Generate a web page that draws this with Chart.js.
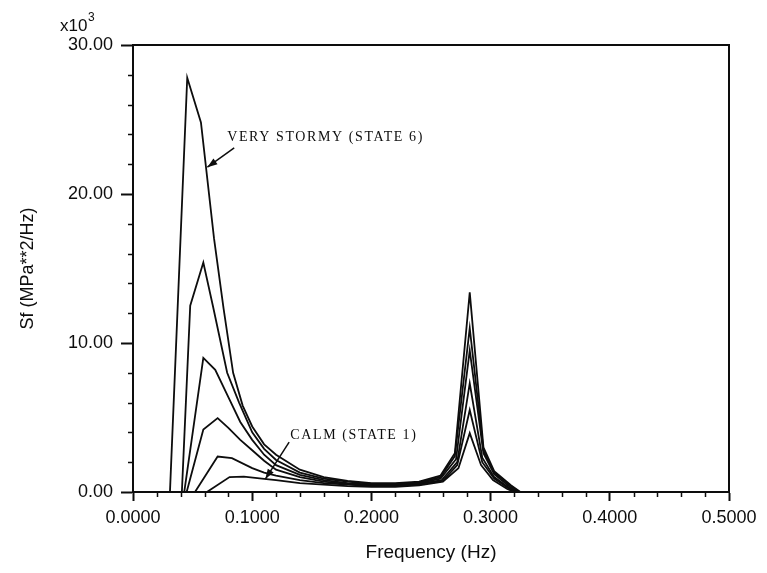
<!DOCTYPE html>
<html lang="en">
<head>
    <meta charset="utf-8" />
    <title>Sf spectrum by sea state</title>
    <script src="https://cdn.jsdelivr.net/npm/chart.js"></script>
    <style>
        html, body { margin: 0; padding: 0; background: #fff; }
        #wrap { width: 767px; height: 573px; }
    </style>
</head>
<body>
    <div id="wrap"><canvas id="chart" width="767" height="573"></canvas></div>

    <script>
        // frequency (Hz) and stress spectrum Sf (x10^3 MPa**2/Hz), one pair per sea state
        const freq6 = [0.031, 0.0455, 0.057, 0.068, 0.076, 0.084, 0.092, 0.100, 0.110, 0.120, 0.140, 0.160, 0.180, 0.200, 0.220, 0.240, 0.258, 0.270, 0.2825, 0.294, 0.303, 0.317, 0.325];
        const sf6   = [0, 27.8, 24.8, 17.0, 12.3, 8.0, 5.8, 4.4, 3.2, 2.5, 1.5, 1.0, 0.75, 0.6, 0.6, 0.7, 1.1, 2.6, 13.4, 3.0, 1.4, 0.45, 0];

        const freq5 = [0.041, 0.048, 0.059, 0.067, 0.079, 0.089, 0.100, 0.110, 0.120, 0.140, 0.160, 0.180, 0.200, 0.220, 0.240, 0.258, 0.270, 0.2825, 0.294, 0.303, 0.317, 0.324];
        const sf5   = [0, 12.5, 15.4, 12.5, 8.0, 6.0, 4.0, 2.9, 2.15, 1.3, 0.9, 0.7, 0.55, 0.55, 0.65, 1.0, 2.4, 11.0, 2.8, 1.3, 0.4, 0];

        const freq4 = [0.043, 0.059, 0.069, 0.081, 0.090, 0.100, 0.110, 0.120, 0.140, 0.160, 0.180, 0.200, 0.220, 0.240, 0.258, 0.271, 0.2825, 0.294, 0.303, 0.316, 0.323];
        const sf4   = [0, 9.0, 8.2, 6.2, 4.7, 3.5, 2.5, 1.8, 1.15, 0.8, 0.6, 0.5, 0.5, 0.6, 0.9, 2.2, 9.5, 2.6, 1.2, 0.35, 0];

        const freq3 = [0.045, 0.059, 0.071, 0.080, 0.090, 0.100, 0.110, 0.120, 0.140, 0.160, 0.180, 0.200, 0.220, 0.240, 0.259, 0.272, 0.2825, 0.293, 0.303, 0.315, 0.322];
        const sf3   = [0, 4.2, 4.96, 4.3, 3.5, 2.8, 2.1, 1.5, 1.0, 0.7, 0.55, 0.45, 0.45, 0.55, 0.8, 2.0, 7.3, 2.3, 1.0, 0.3, 0];

        const freq2 = [0.052, 0.071, 0.083, 0.100, 0.110, 0.120, 0.140, 0.160, 0.180, 0.200, 0.220, 0.240, 0.260, 0.272, 0.2825, 0.293, 0.303, 0.315, 0.321];
        const sf2   = [0, 2.38, 2.27, 1.6, 1.3, 1.1, 0.8, 0.6, 0.5, 0.4, 0.4, 0.5, 0.75, 1.8, 5.5, 2.0, 0.9, 0.25, 0];

        const freq1 = [0.062, 0.081, 0.093, 0.110, 0.120, 0.140, 0.160, 0.180, 0.200, 0.220, 0.240, 0.260, 0.273, 0.2825, 0.292, 0.302, 0.314, 0.320];
        const sf1   = [0, 1.0, 1.03, 0.88, 0.8, 0.6, 0.5, 0.4, 0.35, 0.35, 0.45, 0.7, 1.6, 3.95, 1.8, 0.8, 0.2, 0];

        const xTicks = [0, 0.1, 0.2, 0.3, 0.4, 0.5];
        const yTicks = [0, 10, 20, 30];
        const xMinorStep = 0.02;
        const yMinorStep = 2;

        const ink = '#0d0d0d';
        const states = [[freq1, sf1], [freq2, sf2], [freq3, sf3], [freq4, sf4], [freq5, sf5], [freq6, sf6]];

        // text notes, placed in data units (Hz, x10^3)
        const notes = [
            { text: 'VERY STORMY (STATE 6)', at: [0.079, 23.8], tail: [0.0849, 23.1], tip: [0.0624, 21.8] },
            { text: 'CALM (STATE 1)', at: [0.132, 3.8], tail: [0.131, 3.35], tip: [0.111, 0.87] }
        ];

        function arrow(ctx, x1, y1, x2, y2) {
            ctx.beginPath();
            ctx.moveTo(x1, y1);
            ctx.lineTo(x2, y2);
            ctx.stroke();
            const a = Math.atan2(y2 - y1, x2 - x1);
            const len = 10, w = 3.5;
            ctx.beginPath();
            ctx.moveTo(x2, y2);
            ctx.lineTo(x2 - len * Math.cos(a) + w * Math.sin(a), y2 - len * Math.sin(a) - w * Math.cos(a));
            ctx.lineTo(x2 - len * Math.cos(a) - w * Math.sin(a), y2 - len * Math.sin(a) + w * Math.cos(a));
            ctx.closePath();
            ctx.fill();
        }

        const extras = {
            id: 'extras',
            afterDraw(chart) {
                const { ctx, chartArea: area, scales: { x, y } } = chart;
                ctx.save();
                ctx.strokeStyle = ink;
                ctx.fillStyle = ink;

                // box round the plot
                ctx.lineWidth = 2;
                ctx.strokeRect(area.left, area.top, area.right - area.left, area.bottom - area.top);

                // minor ticks
                ctx.lineWidth = 1.5;
                ctx.beginPath();
                for (let v = yMinorStep; v < 30; v += yMinorStep) {
                    if (v % 10 === 0) continue;
                    const py = Math.round(y.getPixelForValue(v)) + 0.5;
                    ctx.moveTo(area.left - 5, py);
                    ctx.lineTo(area.left, py);
                }
                for (let i = 1; i < 25; i++) {
                    if (i % 5 === 0) continue;
                    const px = Math.round(x.getPixelForValue(i * xMinorStep)) + 0.5;
                    ctx.moveTo(px, area.bottom);
                    ctx.lineTo(px, area.bottom + 5);
                }
                ctx.stroke();

                // x10^3 multiplier
                ctx.font = '17px "Liberation Sans", Arial, sans-serif';
                ctx.textBaseline = 'alphabetic';
                ctx.textAlign = 'left';
                ctx.fillText('x10', 60, 31);
                ctx.font = '12px "Liberation Sans", Arial, sans-serif';
                ctx.fillText('3', 88, 21);

                // notes with arrows
                ctx.font = '14px "Liberation Serif", "Times New Roman", serif';
                ctx.letterSpacing = '1.6px';
                ctx.textBaseline = 'middle';
                ctx.lineWidth = 1.5;
                notes.forEach(n => {
                    ctx.fillText(n.text, x.getPixelForValue(n.at[0]), y.getPixelForValue(n.at[1]));
                    arrow(ctx,
                        x.getPixelForValue(n.tail[0]), y.getPixelForValue(n.tail[1]),
                        x.getPixelForValue(n.tip[0]), y.getPixelForValue(n.tip[1]));
                });
                ctx.restore();
            }
        };

        const tickFont = { family: '"Liberation Sans", Arial, sans-serif', size: 18 };

        new Chart(document.getElementById('chart'), {
            type: 'line',
            data: {
                datasets: states.map(([f, s], i) => ({
                    label: 'State ' + (i + 1),
                    data: f.map((v, k) => ({ x: v, y: s[k] })),
                    borderColor: ink,
                    borderWidth: 1.8,
                    pointRadius: 0,
                    tension: 0,
                    fill: false
                }))
            },
            options: {
                responsive: false,
                animation: false,
                layout: { padding: { top: 45, right: 38, left: 0, bottom: 0 } },
                plugins: { legend: { display: false }, tooltip: { enabled: false } },
                scales: {
                    x: {
                        type: 'linear',
                        min: 0,
                        max: 0.5,
                        afterBuildTicks: s => { s.ticks = xTicks.map(v => ({ value: v })); },
                        afterFit: s => { s.height = 81; },
                        ticks: {
                            callback: v => v.toFixed(4),
                            color: ink,
                            font: tickFont,
                            padding: 6,
                            maxRotation: 0,
                            autoSkip: false
                        },
                        grid: { drawOnChartArea: false, tickLength: 9, tickWidth: 2, tickColor: ink },
                        border: { display: true, color: ink, width: 2 },
                        title: {
                            display: true,
                            text: 'Frequency (Hz)',
                            color: ink,
                            font: { family: '"Liberation Sans", Arial, sans-serif', size: 19 },
                            padding: { top: 0, bottom: 9 }
                        }
                    },
                    y: {
                        min: 0,
                        max: 30,
                        afterBuildTicks: s => { s.ticks = yTicks.map(v => ({ value: v })); },
                        afterFit: s => { s.width = 133; },
                        ticks: {
                            callback: v => v.toFixed(2),
                            color: ink,
                            font: tickFont,
                            padding: 8
                        },
                        grid: { drawOnChartArea: false, tickLength: 12, tickWidth: 2, tickColor: ink },
                        border: { display: true, color: ink, width: 2 },
                        title: {
                            display: true,
                            text: 'Sf (MPa**2/Hz)',
                            color: ink,
                            font: { family: '"Liberation Sans", Arial, sans-serif', size: 18 },
                            padding: { top: 17, bottom: 0 }
                        }
                    }
                }
            },
            plugins: [extras]
        });
    </script>
</body>
</html>
